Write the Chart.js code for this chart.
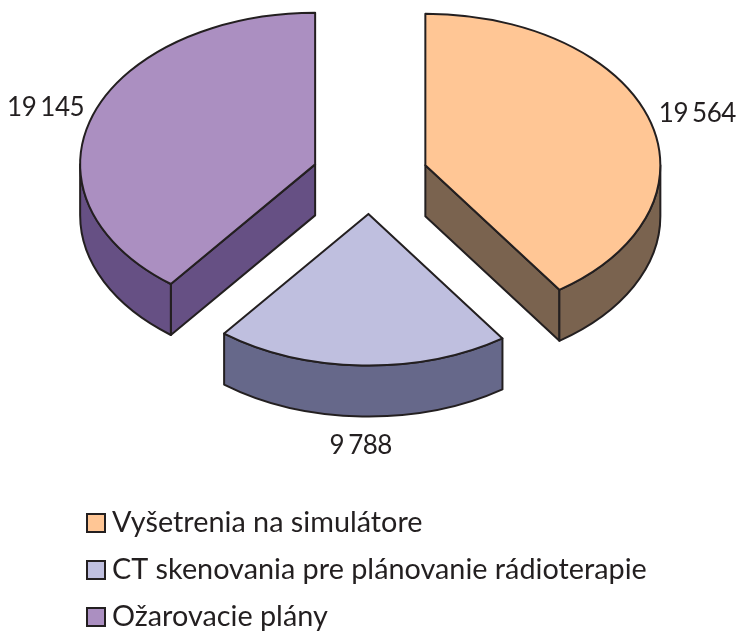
<!DOCTYPE html>
<html>
<head>
<meta charset="utf-8">
<title>Pie</title>
<style>
  html, body { margin: 0; padding: 0; background: #fff; }
  #wrap { width: 738px; height: 632px; }
</style>
</head>
<body>
<div id="wrap"><canvas id="myChart"></canvas></div>
<script src="https://cdn.jsdelivr.net/npm/chart.js@4"></script>
<script>
const kategorie = ["Vyšetrenia na simulátore", "CT skenovania pre plánovanie rádioterapie", "Ožarovacie plány"];
const hodnoty = [19564, 9788, 19145];
const hodnotyText = ["19 564", "9 788", "19 145"];
const farbyVrch = ["#FFC695", "#BFBFDF", "#AB8FC1"];
const farbyBok = ["#7A634F", "#66688A", "#665084"];

const OKRAJ = "#231F20";
const STLACENIE = 0.645;   // ellipse ratio of the tilted pie
const HLBKA = 51;          // wall height in pixels
const STRED_Y = 176.5;     // centre of the whole pie on the page
const POSUN = 232;         // chart.js moves a slice by offset / 4
const POLOMER = 235;
const POLOMER_TEXT = 285;

const FONT = "Lato";

var ctx = document.getElementById("myChart").getContext("2d");

function stlac(c, area)
{
  var cx = (area.left + area.right) / 2;
  var cy = (area.top + area.bottom) / 2;
  c.translate(cx, STRED_Y);
  c.scale(1, STLACENIE);
  c.translate(-cx, -cy);
}

// stroke in page space, otherwise the squeeze thins the line
function obtiahni(c)
{
  c.save();
  c.setTransform(1, 0, 0, 1, 0, 0);
  c.strokeStyle = OKRAJ;
  c.lineWidth = 2;
  c.lineJoin = "round";
  c.stroke();
  c.restore();
}

function stredVyseku(arc)
{
  var stred = (arc.startAngle + arc.endAngle) / 2;
  return {
    uhol: stred,
    x: arc.x + Math.cos(stred) * POSUN / 4,
    y: arc.y + Math.sin(stred) * POSUN / 4
  };
}

const pie3d = {
  id: "pie3d",
  // ArcElement grows an offset slice and trims its angle a bit, undo that
  afterDatasetsUpdate(chart)
  {
    chart.getDatasetMeta(0).data.forEach((arc) => {
      var off = POSUN / 4 * (1 - Math.sin(Math.min(Math.PI, arc.circumference)));
      var d = off / Math.PI / POLOMER / 2;
      arc.outerRadius = POLOMER - off;
      arc.startAngle -= d;
      arc.endAngle += d;
      arc.povodny = [arc.startAngle + d, arc.endAngle - d];
    });
  },
  beforeDatasetsDraw(chart)
  {
    var c = chart.ctx;
    var obluky = chart.getDatasetMeta(0).data;
    c.save();
    stlac(c, chart.chartArea);
    var d = HLBKA / STLACENIE;

    obluky.forEach((arc, i) => {
      var s = stredVyseku(arc);
      var a0 = arc.povodny[0];
      var a1 = arc.povodny[1];

      // flat cut faces that look towards the viewer
      [[a0, Math.cos(a0) < -0.001], [a1, Math.cos(a1) > 0.001]].forEach((hrana) => {
        if (!hrana[1]) return;
        var ex = s.x + Math.cos(hrana[0]) * POLOMER;
        var ey = s.y + Math.sin(hrana[0]) * POLOMER;
        c.beginPath();
        c.moveTo(s.x, s.y);
        c.lineTo(ex, ey);
        c.lineTo(ex, ey + d);
        c.lineTo(s.x, s.y + d);
        c.closePath();
        c.fillStyle = farbyBok[i];
        c.fill();
        obtiahni(c);
      });

      // round outer wall, only the lower half of the ellipse shows
      var w0 = Math.max(a0, 0);
      var w1 = Math.min(a1, Math.PI);
      if (w1 > w0)
      {
        c.beginPath();
        c.arc(s.x, s.y, POLOMER, w0, w1);
        c.arc(s.x, s.y + d, POLOMER, w1, w0, true);
        c.closePath();
        c.fillStyle = farbyBok[i];
        c.fill();
        obtiahni(c);
      }
    });
  },
  afterDatasetsDraw(chart)
  {
    var c = chart.ctx;
    var obluky = chart.getDatasetMeta(0).data;

    // outline of the top faces
    obluky.forEach((arc) => {
      var s = stredVyseku(arc);
      c.beginPath();
      c.moveTo(s.x, s.y);
      c.arc(s.x, s.y, POLOMER, arc.povodny[0], arc.povodny[1]);
      c.closePath();
      obtiahni(c);
    });
    c.restore();

    // value labels, placed from the slice geometry
    var cx = (chart.chartArea.left + chart.chartArea.right) / 2;
    c.save();
    c.font = "400 26px " + FONT;
    c.letterSpacing = "-0.5px";
    c.wordSpacing = "-2px";
    c.fillStyle = OKRAJ;
    c.textAlign = "center";
    c.textBaseline = "middle";
    obluky.forEach((arc, i) => {
      var stred = (arc.startAngle + arc.endAngle) / 2;
      var rx = POSUN / 4 + POLOMER_TEXT;
      var x = cx + Math.cos(stred) * rx;
      var y = STRED_Y + 3 + Math.sin(stred) * rx * STLACENIE;
      if (Math.sin(stred) > 0) y += HLBKA * 0.88 * Math.sin(stred);
      c.fillText(hodnotyText[i], x, y);
    });
    c.restore();

    // legend, one row per category
    c.save();
    c.font = "400 28.8px " + FONT;
    c.textBaseline = "middle";
    kategorie.forEach((text, i) => {
      var y = 523 + i * 47;
      c.fillStyle = farbyVrch[i];
      c.strokeStyle = OKRAJ;
      c.lineWidth = 2;
      c.fillRect(87, y - 9, 18, 18);
      c.strokeRect(87, y - 9, 18, 18);
      c.fillStyle = OKRAJ;
      c.fillText(text, 112, y);
    });
    c.restore();
  }
};

var chart = new Chart(ctx, {
  type: "pie",
  data: {
    labels: kategorie,
    datasets: [{
      data: hodnoty,
      backgroundColor: farbyVrch,
      borderWidth: 0,
      offset: POSUN,
      hoverOffset: 0,
      clip: false
    }]
  },
  options: {
    responsive: true,
    maintainAspectRatio: false,
    animation: false,
    radius: POLOMER,
    layout: { padding: { left: 2 } },
    plugins: {
      tooltip: { enabled: false },
      legend: { display: false }
    }
  },
  plugins: [pie3d]
});
</script>
</body>
</html>
